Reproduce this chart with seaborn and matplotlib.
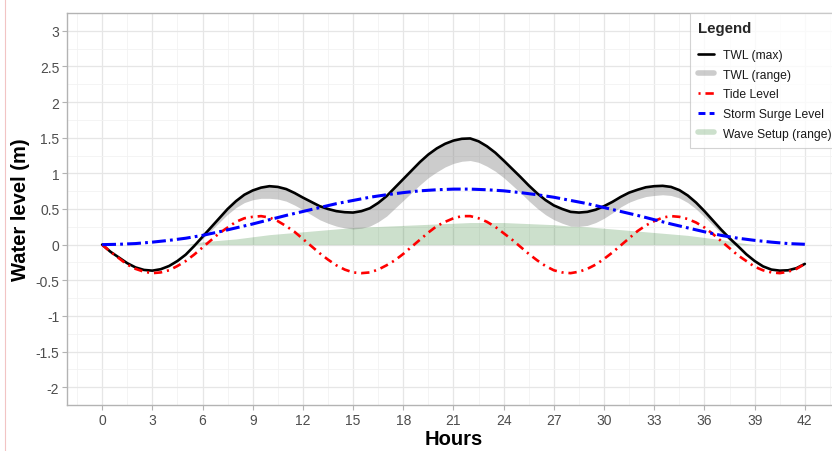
import numpy as np
import pandas as pd
import matplotlib
matplotlib.use("Agg")
import matplotlib.pyplot as plt
import seaborn as sns
from matplotlib.lines import Line2D
from matplotlib.ticker import MultipleLocator

# values
hours = list(range(43))
half_hours = [h / 2 for h in range(85)]

tide = [0.0, -0.10, -0.19, -0.28, -0.34, -0.38, -0.40, -0.39, -0.36, -0.30,
        -0.23, -0.14, -0.04, 0.06, 0.16, 0.24, 0.32, 0.37, 0.39, 0.40,
        0.38, 0.33, 0.26, 0.18, 0.08, -0.02, -0.12, -0.21, -0.29, -0.35,
        -0.39, -0.40, -0.39, -0.35, -0.29, -0.22, -0.13, -0.03, 0.07, 0.17,
        0.26, 0.32, 0.37, 0.40, 0.40, 0.37, 0.32, 0.25, 0.16, 0.07,
        -0.03, -0.13, -0.22, -0.30, -0.36, -0.39, -0.40, -0.38, -0.34, -0.28,
        -0.20, -0.11, -0.01, 0.09, 0.19, 0.27, 0.33, 0.38, 0.40, 0.39,
        0.36, 0.31, 0.24, 0.15, 0.05, -0.05, -0.15, -0.23, -0.31, -0.36,
        -0.39, -0.40, -0.38, -0.34, -0.27]
twl_max = [0.00, -0.10, -0.18, -0.26, -0.32, -0.355, -0.365, -0.345, -0.30, -0.23,
           -0.14, -0.02, 0.11, 0.24, 0.37, 0.50, 0.61, 0.70, 0.76, 0.80,
           0.82, 0.81, 0.78, 0.725, 0.66, 0.60, 0.54, 0.50, 0.47, 0.455,
           0.45, 0.47, 0.51, 0.585, 0.68, 0.80, 0.92, 1.04, 1.16, 1.265,
           1.35, 1.415, 1.46, 1.485, 1.49, 1.45, 1.38, 1.29, 1.18, 1.065,
           0.95, 0.83, 0.72, 0.625, 0.55, 0.50, 0.46, 0.45, 0.46, 0.49,
           0.54, 0.60, 0.67, 0.73, 0.77, 0.805, 0.82, 0.825, 0.81, 0.765,
           0.69, 0.59, 0.47, 0.34, 0.21, 0.09, -0.02, -0.135, -0.23, -0.305,
           -0.35, -0.365, -0.36, -0.33, -0.27]
twl_min = [0.00, -0.10, -0.18, -0.26, -0.32, -0.355, -0.365, -0.345, -0.30, -0.23,
           -0.14, -0.02, 0.08, 0.195, 0.31, 0.425, 0.52, 0.59, 0.63, 0.65,
           0.65, 0.64, 0.61, 0.555, 0.49, 0.42, 0.35, 0.30, 0.26, 0.235,
           0.22, 0.23, 0.26, 0.32, 0.40, 0.51, 0.62, 0.73, 0.84, 0.94,
           1.02, 1.09, 1.14, 1.17, 1.18, 1.155, 1.10, 1.03, 0.94, 0.835,
           0.73, 0.615, 0.51, 0.42, 0.35, 0.30, 0.26, 0.255, 0.27, 0.31,
           0.37, 0.445, 0.53, 0.595, 0.64, 0.675, 0.69, 0.70, 0.69, 0.655,
           0.59, 0.50, 0.39, 0.275, 0.16, 0.055, -0.04, -0.145, -0.23, -0.305,
           -0.35, -0.365, -0.36, -0.33, -0.27]

surge = [0.0, 0.005, 0.015, 0.035, 0.06, 0.09, 0.13, 0.18, 0.235, 0.29, 0.35,
         0.41, 0.465, 0.52, 0.575, 0.62, 0.665, 0.70, 0.73, 0.755, 0.77, 0.779,
         0.779, 0.77, 0.755, 0.73, 0.70, 0.665, 0.62, 0.575, 0.52, 0.465, 0.41,
         0.35, 0.29, 0.235, 0.18, 0.13, 0.09, 0.06, 0.035, 0.015, 0.005]
setup_max = [0, 0, 0, 0, 0, 0, 0.04, 0.06, 0.08, 0.11, 0.14, 0.16, 0.18, 0.20,
             0.22, 0.24, 0.25, 0.26, 0.27, 0.28, 0.29, 0.30, 0.31, 0.31, 0.31,
             0.30, 0.29, 0.28, 0.26, 0.25, 0.23, 0.21, 0.19, 0.17, 0.15, 0.13,
             0.10, 0.07, 0.03, 0, 0, 0, 0]

x_ticks = list(range(0, 43, 3))
y_ticks = [3, 2.5, 2, 1.5, 1, 0.5, 0, -0.5, -1, -1.5, -2]
y_tick_labels = ["3", "2.5", "2", "1.5", "1", "0.5", "0", "-0.5", "-1", "-1.5", "-2"]

fine = pd.DataFrame({"hours": half_hours, "tide": tide,
                     "twl_max": twl_max, "twl_min": twl_min})
coarse = pd.DataFrame({"hours": hours, "surge": surge, "setup_max": setup_max})

sns.set_theme(style="white")
plt.rcParams["font.family"] = ["Liberation Sans", "DejaVu Sans"]
plt.rcParams["lines.scale_dashes"] = False

fig = plt.figure(figsize=(8.32, 4.52), dpi=100)
ax = fig.add_axes([0.0805, 0.1018, 0.9291, 0.8672])

tide_dash = (0, (6, 3.5, 1.5, 3.5))
surge_dash = (0, (10, 3, 2, 3))

ax.fill_between(coarse["hours"], 0, coarse["setup_max"], color="#006400",
                alpha=0.2, linewidth=0, zorder=2)
ax.fill_between(fine["hours"], fine["twl_min"], fine["twl_max"], color="#808080",
                alpha=0.4, linewidth=0, zorder=3)
sns.lineplot(data=fine, x="hours", y="twl_max", ax=ax, color="black",
             linewidth=1.9, zorder=4)
sns.lineplot(data=fine, x="hours", y="tide", ax=ax, color="#ff0000",
             linewidth=1.9, linestyle=tide_dash, zorder=5)
sns.lineplot(data=coarse, x="hours", y="surge", ax=ax, color="#0000ff",
             linewidth=2.2, linestyle=surge_dash, zorder=6)

ax.set_xlim(-2.1, 44.1)
ax.set_ylim(-2.25, 3.25)
ax.set_xticks(x_ticks)
ax.set_xticklabels([str(v) for v in x_ticks])
ax.set_yticks(y_ticks)
ax.set_yticklabels(y_tick_labels)
ax.xaxis.set_minor_locator(MultipleLocator(1.5))
ax.yaxis.set_minor_locator(MultipleLocator(0.25))
ax.grid(True, which="major", color="#e6e6e6", linewidth=0.9, zorder=0)
ax.grid(True, which="minor", color="#f2f2f2", linewidth=0.6, zorder=0)
ax.set_axisbelow(True)
ax.tick_params(axis="both", which="major", length=3.5, width=0.8,
               color="#b3b3b3", labelcolor="#4d4d4d", labelsize=10, pad=2,
               left=True, bottom=True)
ax.tick_params(axis="both", which="minor", length=0)
for sp in ax.spines.values():
    sp.set_color("#b3b3b3")
    sp.set_linewidth(1.0)

ax.set_xlabel("Hours", fontsize=14.5, fontweight="bold", color="black", labelpad=2)
ax.set_ylabel("Water level (m)", fontsize=14.5, fontweight="bold", color="black",
              labelpad=4)

handles = [
    Line2D([], [], color="black", linewidth=1.9),
    Line2D([], [], color="#808080", alpha=0.4, linewidth=4),
    Line2D([], [], color="#ff0000", linewidth=1.9, linestyle=(0, (1.5, 3.5, 6, 3.5))),
    Line2D([], [], color="#0000ff", linewidth=2.1, linestyle=(0, (5, 3))),
    Line2D([], [], color="#006400", alpha=0.2, linewidth=4),
]
labels = ["TWL (max)", "TWL (range)", "Tide Level", "Storm Surge Level",
          "Wave Setup (range)"]
leg = fig.legend(handles, labels, title="Legend", loc="upper left",
                 bbox_to_anchor=(0.829, 0.969), bbox_transform=fig.transFigure,
                 fontsize=8.7, title_fontproperties={"weight": "bold", "size": 10.8},
                 frameon=True, fancybox=False, edgecolor="#c8c8c8",
                 handlelength=1.35, handletextpad=0.75, labelspacing=0.63,
                 borderpad=0.68, borderaxespad=0)
leg._legend_box.align = "left"
leg._legend_box.sep = 0.63 * 8.7 + 4.5
leg.get_frame().set_linewidth(0.8)
for t in leg.get_texts():
    t.set_color("#1a1a1a")

fig.add_artist(Line2D([0.006, 0.006], [0, 1], transform=fig.transFigure,
                      color="#f2c4c4", linewidth=0.8))

fig.savefig("out.png", dpi=100)
